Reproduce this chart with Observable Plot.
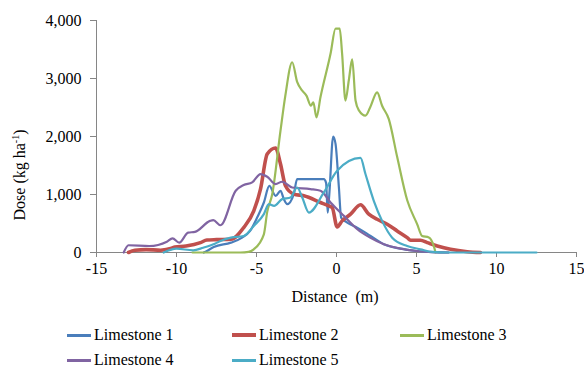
<!DOCTYPE html>
<html><head><meta charset="utf-8">
<script src="https://cdn.jsdelivr.net/npm/d3@7"></script>
<script src="https://cdn.jsdelivr.net/npm/@observablehq/plot@0.6"></script>
<style>
body{margin:0;background:#fff;font-family:'Liberation Serif','Tinos','DejaVu Serif',serif;}
#wrap{position:relative;width:584px;height:367px;overflow:hidden;}
.ttl{position:absolute;font-size:16px;color:#000;white-space:pre;line-height:16px;}
.leg{position:absolute;font-size:16px;line-height:16px;color:#000;white-space:pre;display:flex;align-items:center;}
.leg span.sw{display:inline-block;width:24px;margin-right:3px;}
</style></head><body><div id="wrap"></div>
<script>
// ---- data ----
const seriesNames = ["Limestone 1","Limestone 2","Limestone 3","Limestone 4","Limestone 5"];
const seriesColors = ["#4a7ebb","#c0504d","#9bbb59","#8064a2","#4bacc6"];
const xTicks = [-15,-10,-5,0,5,10,15];
const yTicks = [0,1000,2000,3000,4000];

const ls1X = [-8.3,-8.1,-7.67,-6.6,-5.9,-5.4,-4.96,-4.54,-4.2,-3.8,-3.5,-3.29,-3.08,-2.67,-2.46,-0.79,-0.65,-0.55,-0.45,-0.21,-0.06,0.15,0.29,0.67,1.29,2.13,2.96,4,5,6,7];
const ls1Y = [0,26,95,170,256,372,602,862,1150,977,1064,920,834,1007,1266,1266,1200,689,1000,1998,1872,1121,602,516,429,285,142,66,26,5,0];

const ls2X = [-13.0,-12.6,-11.9,-11,-10.3,-10.1,-9.4,-8.5,-8.1,-7.5,-6.6,-5.8,-5.17,-4.75,-4.33,-3.81,-3.5,-3.19,-2.67,-2.04,-1,-0.48,-0.27,0.04,0.35,0.88,1.5,2.02,2.54,3.17,3.79,4.42,4.63,5.25,5.67,6.3,7.13,8.17,9];
const ls2Y = [0,38,49,40,72,95,112,170,216,222,228,430,718,1093,1699,1803,1526,1150,1007,977,862,804,775,441,545,661,822,661,574,487,372,256,210,210,170,112,55,14,0];

const ls3X = [-9,-6,-5.5,-5.17,-4.54,-4.33,-4.02,-3.5,-3.2,-2.77,-2.46,-2.14,-1.87,-1.6,-1.45,-1.25,-1,-0.37,-0.06,0.2,0.35,0.56,0.77,0.98,1.19,1.4,1.81,2.1,2.54,2.85,3.27,3.79,4.42,5.04,5.35,5.77,6.08,6.19];
const ls3Y = [0,0,10,55,314,700,1000,2100,2700,3280,2940,2790,2700,2530,2590,2330,2680,3430,3860,3860,3430,2620,2970,3330,2620,2450,2360,2500,2760,2530,2300,1650,900,490,285,260,112,0];

const ls4X = [-13.3,-13.0,-11.7,-10.6,-10.25,-9.83,-9.27,-8.85,-7.9,-7.7,-7.25,-6.3,-5.8,-5.27,-4.75,-4.33,-3.81,-3.4,-2.77,-1.63,-1,-0.37,0.46,1.3,2.1,2.96,4,5,6,7];
const ls4Y = [0,125,112,187,245,170,343,355,545,557,470,1064,1163,1208,1353,1306,1180,1220,1121,1093,1064,862,631,401,256,142,66,26,5,0];

const ls5X = [-10.8,-10,-8.96,-8.33,-7.6,-7.25,-6.6,-5.8,-5.17,-4.54,-4.23,-3.9,-3.4,-2.87,-2.46,-2.14,-1.73,-0.79,0.04,1.5,1.81,2.33,2.85,3.48,4.42,5.25,6,7,12.5];
const ls5Y = [0,66,38,83,152,199,256,285,458,661,834,804,920,948,1121,948,689,1035,1410,1630,1353,891,545,256,112,55,10,0,0];

const allX = [ls1X,ls2X,ls3X,ls4X,ls5X];
const allY = [ls1Y,ls2Y,ls3Y,ls4Y,ls5Y];
const widths = [2.2,3.6,2.2,2.2,2.2];

// ---- build table ----
const series = allX.map((xs,i)=>xs.map((x,j)=>({series:seriesNames[i], x, y:allY[i][j]})));

const FONT = "'Liberation Serif','Tinos','DejaVu Serif',serif";
const axisGray = "#868686";
const marks = [
  Plot.ruleY([0], {stroke: axisGray, strokeWidth: 1}),
  Plot.ruleX([-15], {stroke: axisGray, strokeWidth: 1}),
  Plot.axisX({ticks: xTicks, tickSize: 5, tickPadding: 5, stroke: axisGray, fill: "#000", fontSize: 16, fontFamily: FONT, tickFormat: d => d < 0 ? "-" + Math.abs(d) : String(d), label: null}),
  Plot.axisY({ticks: yTicks, tickSize: 6, tickPadding: 9, stroke: axisGray, fill: "#000", fontSize: 16, fontFamily: FONT, tickFormat: d3.format(","), label: null})
];
series.forEach((d,i)=>{
  marks.push(Plot.line(d, {x:"x", y:"y", stroke: seriesColors[i], strokeWidth: widths[i], curve: "monotone-x", strokeLinejoin:"round"}));
});

const chart = Plot.plot({
  width: 584, height: 310,
  marginLeft: 96, marginRight: 8, marginTop: 20, marginBottom: 58,
  style: {fontFamily: FONT, background: "#fff"},
  x: {domain: [-15, 15]},
  y: {domain: [0, 4000]},
  marks
});
const wrap = document.getElementById("wrap");
wrap.appendChild(chart);

// axis titles
const xt = document.createElement("div");
xt.className = "ttl";
xt.textContent = "Distance\u00a0\u00a0(m)";
xt.style.left = "335px"; xt.style.top = "297px";
xt.style.transform = "translate(-50%,-50%)";
wrap.appendChild(xt);

const yt = document.createElement("div");
yt.className = "ttl";
yt.innerHTML = "Dose (kg ha<sup style='font-size:10px;line-height:0;vertical-align:6px'>-1</sup>)";
yt.style.left = "20px"; yt.style.top = "175px";
yt.style.transform = "translate(-50%,-50%) rotate(-90deg)";
wrap.appendChild(yt);

// legend
const legPos = [[67,335],[232,335],[400,335],[67,360],[232,360]];
seriesNames.forEach((n,i)=>{
  const el = document.createElement("div");
  el.className = "leg";
  el.style.left = legPos[i][0] + "px";
  el.style.top = (legPos[i][1] - 8) + "px";
  el.style.height = "16px";
  const sw = document.createElement("span");
  sw.className = "sw";
  sw.style.borderTop = (i === 1 ? 4 : 3) + "px solid " + seriesColors[i];
  el.appendChild(sw);
  const t = document.createElement("span");
  t.textContent = n;
  el.appendChild(t);
  wrap.appendChild(el);
});
</script></body></html>
